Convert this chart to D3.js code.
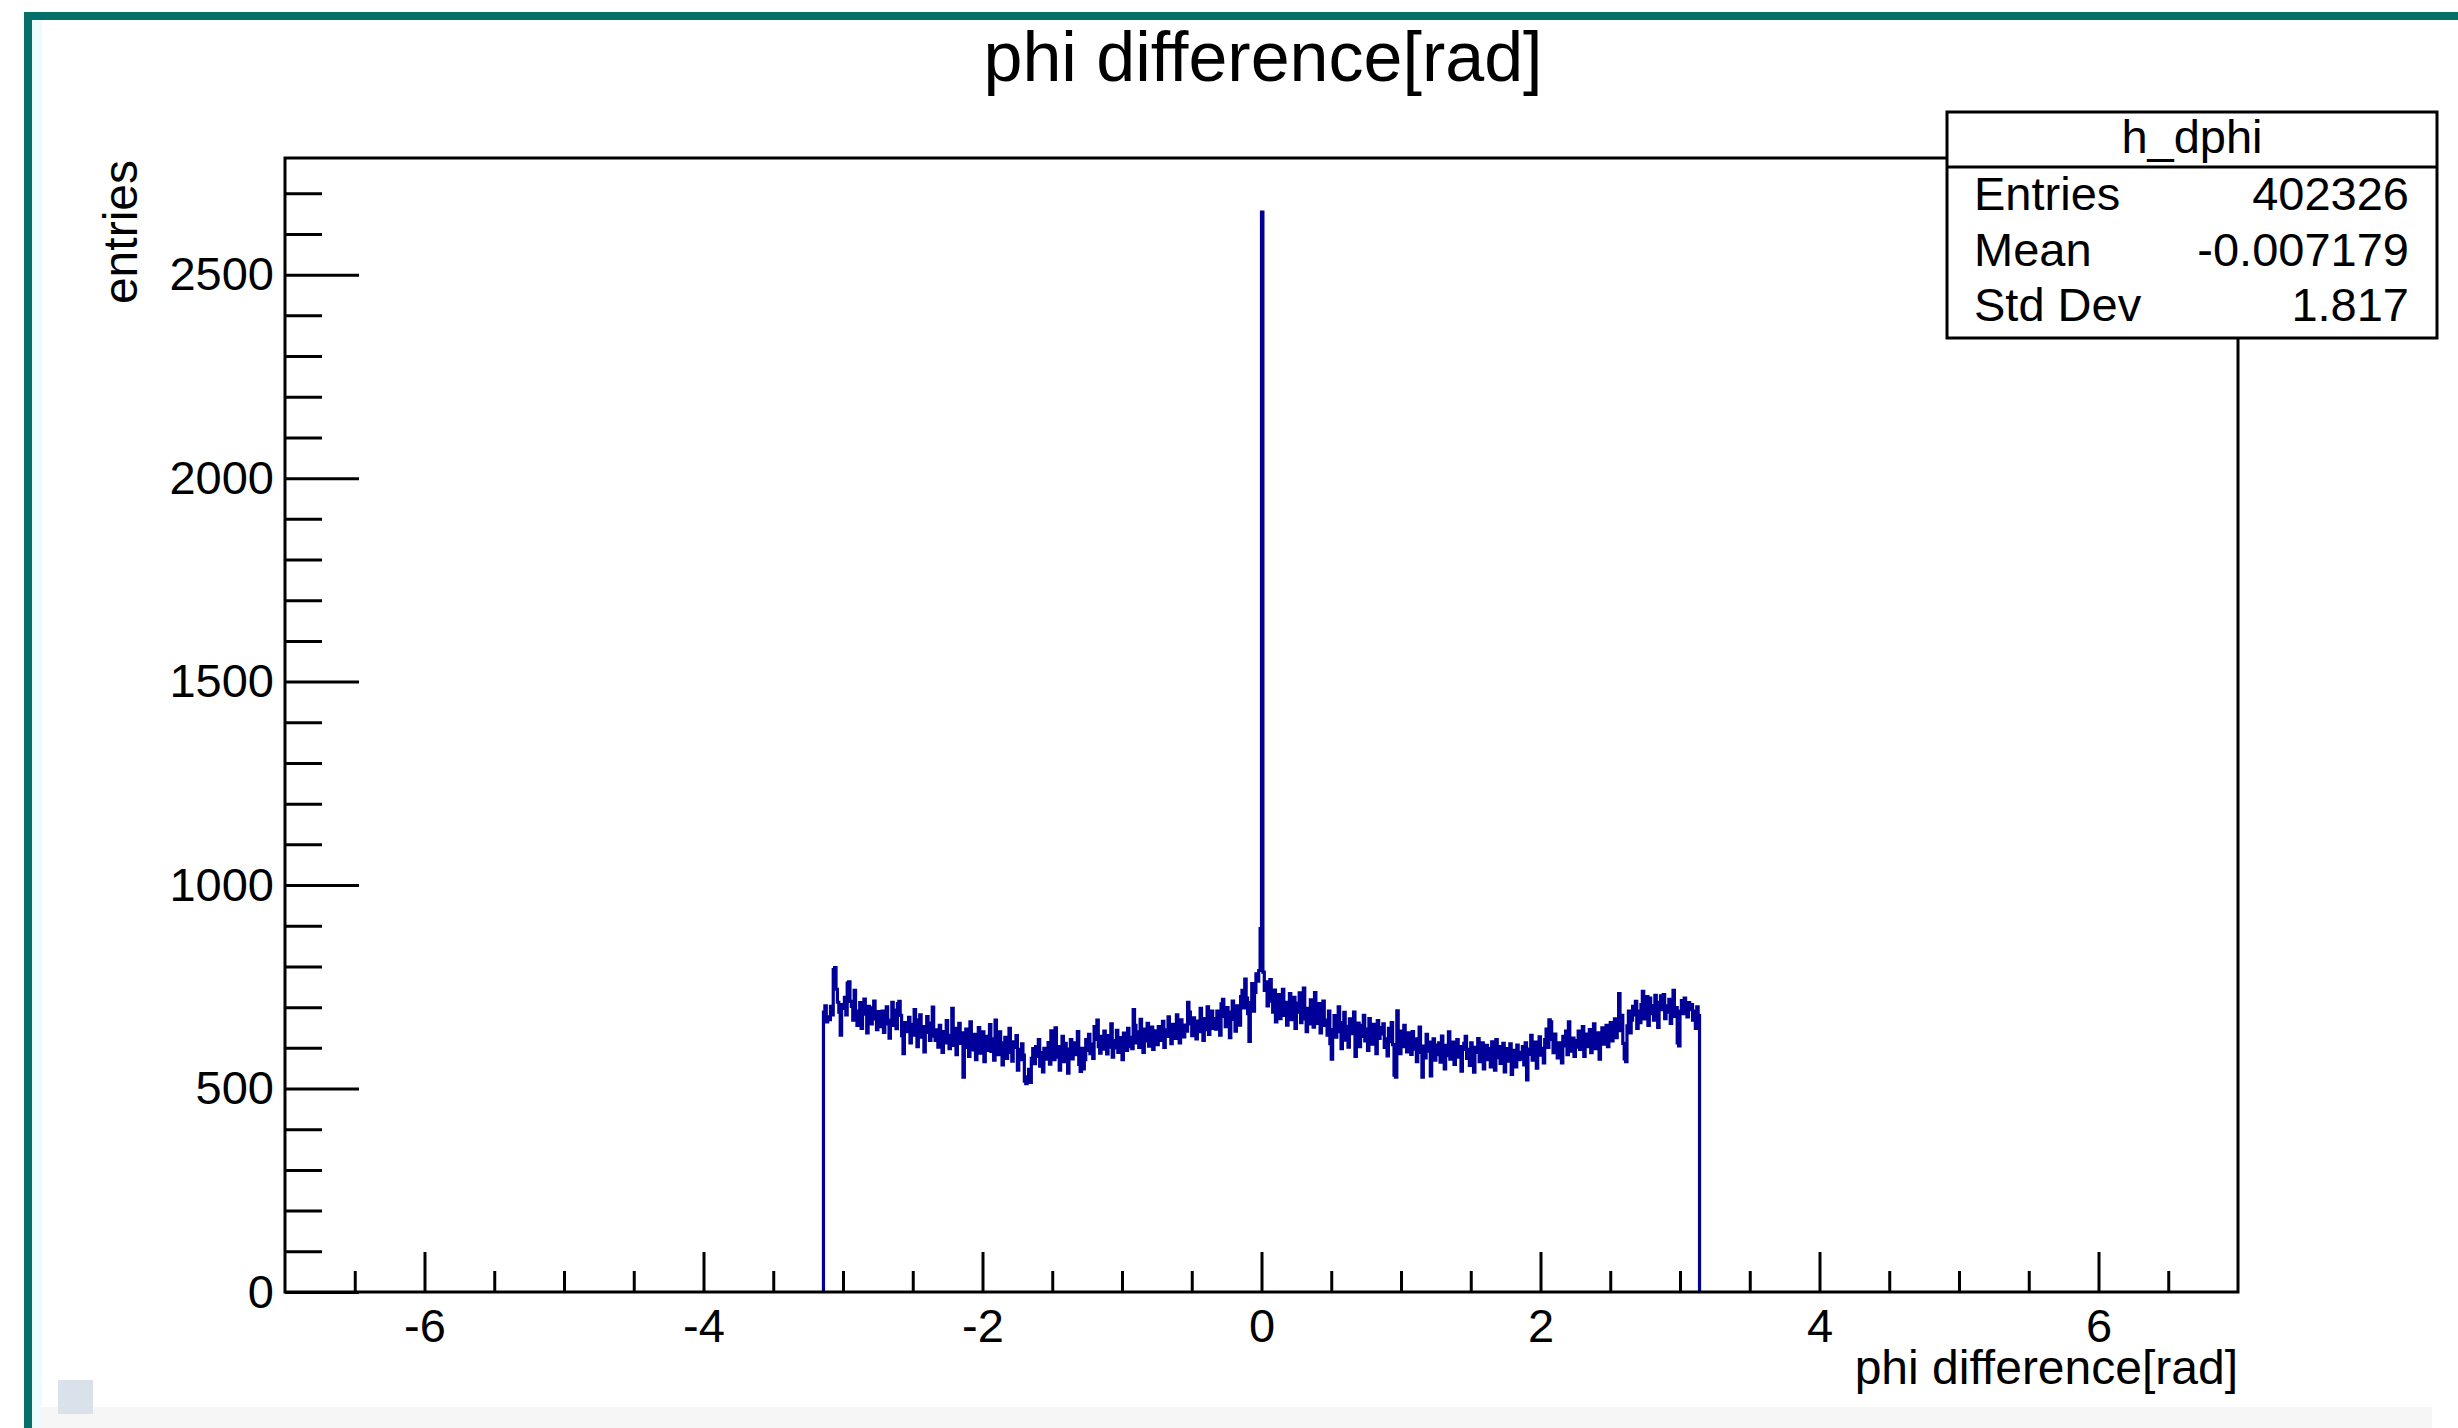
<!DOCTYPE html>
<html>
<head>
<meta charset="utf-8">
<script src="https://cdn.jsdelivr.net/npm/d3@7.9.0/dist/d3.min.js"></script>
<style>
  body { margin: 0; background: #fff; }
  svg { display: block; font-family: "Liberation Sans", Arial, Helvetica, sans-serif; }
</style>
</head>
<body>
<svg id="chart" width="2458" height="1428"></svg>
<script>
// h_dphi: bin contents, 0.01 rad bins starting at -3.14
const binStart = -3.14;
const binWidth = 0.01;
const counts = [
  688, 703, 664, 676, 669, 702, 681, 792, 797, 744, 712, 688, 631, 706, 697, 724, 681, 759, 762, 714,
  702, 668, 741, 690, 655, 672, 711, 648, 683, 720, 694, 637, 702, 676, 659, 698, 715, 671, 645, 689,
  671, 652, 690, 638, 677, 701, 659, 624, 668, 712, 655, 693, 647, 709, 714, 680, 630, 586, 662, 651,
  640, 675, 612, 658, 631, 694, 647, 603, 669, 681, 626, 652, 590, 638, 677, 661, 618, 645, 700, 629,
  618, 644, 602, 655, 627, 589, 640, 612, 667, 631, 598, 620, 697, 606, 648, 583, 625, 660, 611, 637,
  528, 601, 646, 622, 579, 664, 610, 595, 633, 571, 618, 650, 587, 604, 639, 566, 612, 628, 594, 657,
  591, 622, 570, 668, 604, 583, 639, 612, 558, 597, 626, 574, 610, 648, 589, 567, 615, 601, 630, 545,
  596, 571, 610, 582, 518, 512, 529, 547, 515, 574, 598, 561, 603, 579, 620, 555, 588, 541, 599, 572,
  586, 613, 560, 642, 598, 571, 649, 577, 603, 545, 590, 628, 566, 611, 584, 538, 597, 620, 573, 606,
  612, 583, 640, 559, 542, 599, 548, 571, 620, 594, 633, 586, 609, 574, 652, 621, 668, 603, 587, 628,
  597, 641, 614, 585, 630, 602, 659, 577, 618, 600, 643, 589, 625, 608, 571, 636, 615, 594, 648, 603,
  626, 598, 694, 655, 612, 639, 601, 670, 628, 589, 646, 617, 660, 604, 633, 651, 596, 642, 620, 608,
  652, 618, 637, 665, 601, 644, 628, 676, 639, 610, 658, 647, 623, 681, 635, 612, 669, 641, 627, 656,
  641, 712, 688, 659, 630, 674, 651, 622, 666, 640, 697, 655, 618, 672, 645, 701, 633, 662, 690, 648,
  672, 646, 690, 658, 631, 708, 719, 677, 652, 699, 664, 625, 688, 715, 670, 641, 703, 681, 656, 726,
  741, 698, 769, 722, 684, 616, 711, 758, 690, 736, 782, 764, 790, 893, 2654, 786, 741, 762, 703, 733,
  768, 715, 688, 742, 664, 706, 731, 672, 695, 744, 680, 712, 656, 701, 733, 669, 690, 724, 648, 710,
  688, 735, 662, 704, 747, 671, 640, 697, 659, 718, 682, 651, 736, 694, 660, 709, 637, 676, 715, 655,
  668, 631, 690, 610, 572, 645, 679, 626, 657, 701, 640, 598, 662, 687, 619, 653, 602, 671, 648, 635,
  688, 579, 642, 661, 603, 655, 628, 680, 617, 646, 594, 672, 631, 609, 658, 640, 586, 667, 623, 650,
  634, 659, 601, 622, 580, 648, 615, 662, 608, 533, 528, 691, 627, 586, 641, 603, 655, 619, 590, 637,
  611, 584, 640, 597, 622, 566, 618, 651, 589, 528, 604, 575, 633, 592, 614, 531, 598, 622, 570, 607,
  583, 612, 565, 629, 595, 548, 606, 581, 639, 572, 597, 614, 559, 590, 620, 577, 603, 543, 596, 611,
  628, 574, 596, 557, 612, 583, 540, 601, 589, 623, 566, 594, 612, 548, 580, 606, 571, 598, 553, 615,
  592, 545, 620, 576, 603, 562, 588, 611, 541, 579, 598, 567, 610, 535, 582, 594, 553, 607, 571, 589,
  572, 603, 558, 612, 521, 584, 597, 631, 570, 589, 614, 550, 605, 627, 582, 599, 563, 620, 646, 601,
  669, 664, 621, 588, 634, 597, 575, 612, 590, 563, 628, 605, 641, 583, 664, 610, 592, 624, 579, 602,
  618, 641, 596, 627, 652, 579, 610, 634, 603, 645, 588, 622, 659, 598, 614, 637, 572, 626, 649, 609,
  628, 655, 603, 646, 662, 617, 639, 671, 625, 650, 733, 642, 680, 611, 573, 566, 654, 690, 637, 668,
  702, 681, 714, 648, 690, 662, 706, 739, 671, 693, 726, 655, 722, 684, 704, 668, 729, 712, 650, 697,
  728, 694, 731, 672, 703, 688, 719, 660, 706, 741, 677, 699, 612, 605, 690, 716, 684, 722, 701, 676,
  711, 694, 706, 668, 690, 648, 701, 679
];

const xRange = [-7, 7];
const xMajorTicks = [-6, -4, -2, 0, 2, 4, 6];
const yMajorTicks = [0, 500, 1000, 1500, 2000, 2500];

const titleText = "phi difference[rad]";
const xTitle = "phi difference[rad]";
const yTitle = "entries";

const statsName = "h_dphi";
const statsLabels = ["Entries", "Mean", "Std Dev"];
const statsValues = ["402326", "-0.007179", "1.817"];

// layout
const W = 2458, H = 1428;
const plot = { left: 285, right: 2238, top: 158, bottom: 1292 };
const histColor = "#000099";
const fontSize = 47;

const svg = d3.select("#chart");

// page decoration around the canvas
svg.append("rect").attr("x", 0).attr("y", 0).attr("width", W).attr("height", H).attr("fill", "#fff");
svg.append("rect").attr("x", 32).attr("y", 20).attr("width", 10).attr("height", H - 20).attr("fill", "#eafcfc");
svg.append("rect").attr("x", 42).attr("y", 1407).attr("width", 2390).attr("height", 21).attr("fill", "#f6f6f6");
svg.append("rect").attr("x", 58).attr("y", 1380).attr("width", 35).attr("height", 34).attr("fill", "#d9e2ea");
svg.append("rect").attr("x", 24).attr("y", 12).attr("width", W - 24).attr("height", 8).attr("fill", "#056f69");
svg.append("rect").attr("x", 24).attr("y", 12).attr("width", 8).attr("height", H - 12).attr("fill", "#056f69");

const x = d3.scaleLinear().domain(xRange).range([plot.left, plot.right]);
const y = d3.scaleLinear().domain([0, d3.max(counts) * 1.05]).range([plot.bottom, plot.top]);

// histogram outline
const pts = [[binStart, 0]];
counts.forEach((c, i) => pts.push([binStart + i * binWidth, c]));
const binEnd = binStart + counts.length * binWidth;
pts.push([binEnd, counts[counts.length - 1]]);
pts.push([binEnd, 0]);

const line = d3.line()
  .x(d => x(d[0]))
  .y(d => y(d[1]))
  .curve(d3.curveStepAfter);

svg.append("path")
  .datum(pts)
  .attr("d", line)
  .attr("fill", "none")
  .attr("stroke", histColor)
  .attr("stroke-width", 3.2)
  .attr("stroke-linejoin", "miter");

// axes
const fmt = d => String(d);
const xMinor = d3.range(xRange[0] + 0.5, xRange[1], 0.5).filter(v => !xMajorTicks.includes(v));
const yMinor = d3.range(100, y.domain()[1], 100).filter(v => !yMajorTicks.includes(v));

const gx = svg.append("g").attr("transform", `translate(0,${plot.bottom})`);
gx.call(d3.axisBottom(x).tickValues(xMajorTicks).tickSize(-40).tickPadding(17).tickFormat(fmt));
gx.append("g").call(d3.axisBottom(x).tickValues(xMinor).tickSize(-21).tickFormat(""));

const gy = svg.append("g").attr("transform", `translate(${plot.left},0)`);
gy.call(d3.axisLeft(y).tickValues(yMajorTicks).tickSize(-74).tickPadding(11).tickFormat(fmt));
gy.append("g").call(d3.axisLeft(y).tickValues(yMinor).tickSize(-37).tickFormat(""));

svg.selectAll(".domain").remove();
svg.selectAll(".tick line").attr("stroke", "#000").attr("stroke-width", 3);
svg.selectAll(".tick text")
  .attr("fill", "#000")
  .style("font-size", fontSize + "px")
  .style("font-family", "'Liberation Sans', Arial, sans-serif");

// frame
svg.append("rect")
  .attr("x", plot.left).attr("y", plot.top)
  .attr("width", plot.right - plot.left).attr("height", plot.bottom - plot.top)
  .attr("fill", "none").attr("stroke", "#000").attr("stroke-width", 3);

// titles
svg.append("text")
  .attr("x", 1263).attr("y", 81)
  .attr("text-anchor", "middle")
  .style("font-size", "70px")
  .text(titleText);

svg.append("text")
  .attr("x", plot.right).attr("y", 1384)
  .attr("text-anchor", "end")
  .style("font-size", "48px")
  .text(xTitle);

svg.append("text")
  .attr("transform", `translate(137,${plot.top + 2}) rotate(-90)`)
  .attr("text-anchor", "end")
  .style("font-size", "48px")
  .text(yTitle);

// stats box
const box = { left: 1947, right: 2437, top: 112, bottom: 338, header: 167 };
svg.append("rect")
  .attr("x", box.left).attr("y", box.top)
  .attr("width", box.right - box.left).attr("height", box.bottom - box.top)
  .attr("fill", "#fff").attr("stroke", "#000").attr("stroke-width", 3);
svg.append("line")
  .attr("x1", box.left).attr("x2", box.right)
  .attr("y1", box.header).attr("y2", box.header)
  .attr("stroke", "#000").attr("stroke-width", 3);
svg.append("text")
  .attr("x", (box.left + box.right) / 2).attr("y", 153)
  .attr("text-anchor", "middle")
  .style("font-size", fontSize + "px")
  .text(statsName);

const rowY = d3.scalePoint().domain(statsLabels).range([210, 321]);
statsLabels.forEach((lab, i) => {
  svg.append("text")
    .attr("x", 1974).attr("y", rowY(lab))
    .style("font-size", fontSize + "px")
    .text(lab);
  svg.append("text")
    .attr("x", 2409).attr("y", rowY(lab))
    .attr("text-anchor", "end")
    .style("font-size", fontSize + "px")
    .text(statsValues[i]);
});
</script>
</body>
</html>
